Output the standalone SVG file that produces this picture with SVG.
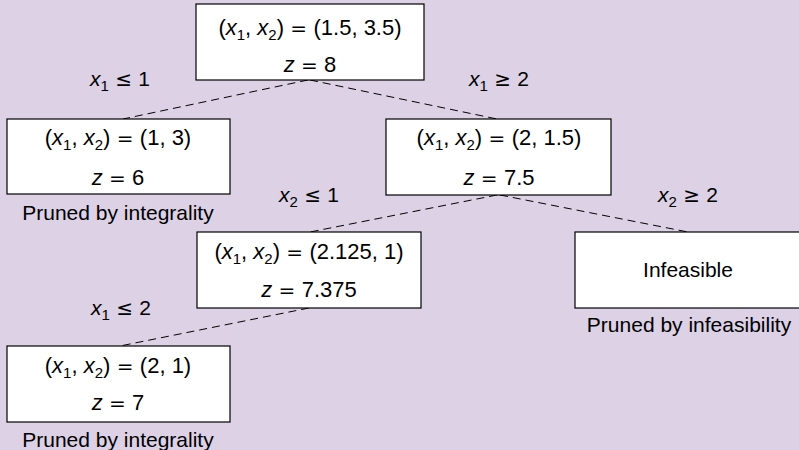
<svg xmlns="http://www.w3.org/2000/svg" width="799" height="450" viewBox="0 0 799 450">
<style>
text{font-family:"Liberation Sans",Arial,sans-serif;font-size:21px;fill:#000;text-anchor:middle}
text.m{font-size:22px}
.i{font-style:italic}
.s{font-size:15px}
.r{font-family:"DejaVu Sans",sans-serif;font-size:20px}
.box{fill:#fff;stroke:#000;stroke-width:1.2}
.c{stroke:#000;stroke-width:1;stroke-dasharray:8 5;fill:none}
</style>
<rect width="799" height="450" fill="#dcd1e5"/>
<g id="connectors">
<line class="c" x1="308" y1="80" x2="123" y2="119"/>
<line class="c" x1="310" y1="80" x2="497" y2="119"/>
<line class="c" x1="497" y1="195" x2="310" y2="232"/>
<line class="c" x1="500" y1="195" x2="688" y2="232"/>
<line class="c" x1="309" y1="308" x2="120" y2="346"/>
<text x="120" y="86"><tspan class="i">x</tspan><tspan class="s" dy="5">1</tspan><tspan class="r" dy="-5"> ≤ </tspan>1</text>
<text x="499" y="86"><tspan class="i">x</tspan><tspan class="s" dy="5">1</tspan><tspan class="r" dy="-5"> ≥ </tspan>2</text>
<text x="309" y="202"><tspan class="i">x</tspan><tspan class="s" dy="5">2</tspan><tspan class="r" dy="-5"> ≤ </tspan>1</text>
<text x="688" y="202"><tspan class="i">x</tspan><tspan class="s" dy="5">2</tspan><tspan class="r" dy="-5"> ≥ </tspan>2</text>
<text x="121" y="315"><tspan class="i">x</tspan><tspan class="s" dy="5">1</tspan><tspan class="r" dy="-5"> ≤ </tspan>2</text>
</g>
<g id="root">
<rect class="box" x="196" y="4" width="228" height="76"/>
<text class="m" x="310" y="35">(<tspan class="i">x</tspan><tspan class="s" dy="5">1</tspan><tspan dy="-5">, </tspan><tspan class="i">x</tspan><tspan class="s" dy="5">2</tspan><tspan dy="-5">)</tspan><tspan class="r"> = </tspan>(1.5, 3.5)</text>
<text class="m" x="310" y="72"><tspan class="i">z</tspan><tspan class="r"> = </tspan>8</text>
</g>
<g id="left">
<rect class="box" x="7" y="119" width="223" height="75"/>
<text class="m" x="118" y="145">(<tspan class="i">x</tspan><tspan class="s" dy="5">1</tspan><tspan dy="-5">, </tspan><tspan class="i">x</tspan><tspan class="s" dy="5">2</tspan><tspan dy="-5">)</tspan><tspan class="r"> = </tspan>(1, 3)</text>
<text class="m" x="118" y="185"><tspan class="i">z</tspan><tspan class="r"> = </tspan>6</text>
<text x="118" y="220">Pruned by integrality</text>
</g>
<g id="right">
<rect class="box" x="386" y="119" width="225" height="76"/>
<text class="m" x="499" y="145">(<tspan class="i">x</tspan><tspan class="s" dy="5">1</tspan><tspan dy="-5">, </tspan><tspan class="i">x</tspan><tspan class="s" dy="5">2</tspan><tspan dy="-5">)</tspan><tspan class="r"> = </tspan>(2, 1.5)</text>
<text class="m" x="499" y="185"><tspan class="i">z</tspan><tspan class="r"> = </tspan>7.5</text>
</g>
<g id="mid">
<rect class="box" x="197" y="232" width="224" height="76"/>
<text class="m" x="309" y="259">(<tspan class="i">x</tspan><tspan class="s" dy="5">1</tspan><tspan dy="-5">, </tspan><tspan class="i">x</tspan><tspan class="s" dy="5">2</tspan><tspan dy="-5">)</tspan><tspan class="r"> = </tspan>(2.125, 1)</text>
<text class="m" x="309" y="297"><tspan class="i">z</tspan><tspan class="r"> = </tspan>7.375</text>
</g>
<g id="infeasible">
<rect class="box" x="575" y="232" width="232" height="76"/>
<text x="688" y="277">Infeasible</text>
<text x="689" y="332">Pruned by infeasibility</text>
</g>
<g id="bottom">
<rect class="box" x="7" y="346" width="223" height="76"/>
<text class="m" x="118" y="373">(<tspan class="i">x</tspan><tspan class="s" dy="5">1</tspan><tspan dy="-5">, </tspan><tspan class="i">x</tspan><tspan class="s" dy="5">2</tspan><tspan dy="-5">)</tspan><tspan class="r"> = </tspan>(2, 1)</text>
<text class="m" x="118" y="410"><tspan class="i">z</tspan><tspan class="r"> = </tspan>7</text>
<text x="118" y="447">Pruned by integrality</text>
</g>
</svg>
